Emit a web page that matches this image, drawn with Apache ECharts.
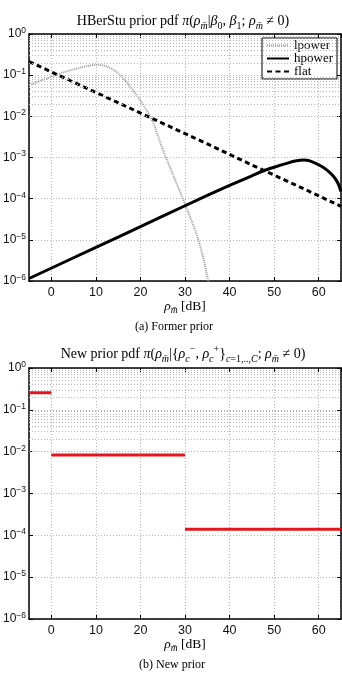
<!DOCTYPE html>
<html>
<head>
<meta charset="utf-8">
<script src="https://cdn.jsdelivr.net/npm/echarts@6.0.0/dist/echarts.min.js"></script>
<style>
    html, body { margin: 0; padding: 0; background: #fff; }
    #main { width: 342px; height: 673px; }
</style>
</head>
<body>
<div id="main"></div>
<script>
// (a) former prior, x in dB
var lpowerX = [-5, -2.5, 0, 2.5, 5, 7.5, 10, 12.5, 15, 17.5, 20, 22.5, 25, 27.5, 30, 32.5, 34, 35, 35.5];
var lpowerY = [0.0575, 0.0724, 0.0912, 0.115, 0.138, 0.162, 0.178, 0.162, 0.112, 0.0562, 0.024, 0.0085, 0.00158, 3.4e-4, 7.4e-5, 1.45e-5, 4.0e-6, 1.26e-6, 7.9e-7];

var hpowerX = [-5, 5, 15, 25, 35, 40, 45, 47.5, 50, 53, 55, 56.6, 58, 60.4, 62, 63.3, 64.3, 65];
var hpowerY = [1.15e-6, 3.67e-6, 1.17e-5, 3.76e-5, 1.2e-4, 2.1e-4, 3.6e-4, 4.7e-4, 5.8e-4, 7.3e-4, 8.3e-4, 8.7e-4, 8.3e-4, 6.3e-4, 4.8e-4, 3.5e-4, 2.4e-4, 1.48e-4];

var flatX = [-5, 5, 15, 25, 35, 45, 55, 65];
var flatY = [0.214, 0.0676, 0.0214, 0.00676, 0.00214, 6.6e-4, 2.1e-4, 6.5e-5];

// (b) new prior: piecewise constant
var priorEdges = [-5, 0, 30, 65];
var priorLevels = [0.257, 0.0083, 1.4e-4];

var xTickLabels = ['0', '10', '20', '30', '40', '50', '60'];

(function () {
    var myChart = echarts.init(document.getElementById('main'));

    function pairs(xs, ys) {
        return xs.map(function (x, i) { return [x, ys[i]]; });
    }
    var priorData = [];
    priorLevels.forEach(function (v, i) {
        if (i > 0) priorData.push([priorEdges[i], '-']);
        priorData.push([priorEdges[i], v], [priorEdges[i + 1], v]);
    });

    // log minor grid at 2..9 x 10^e
    var minorLines = [];
    for (var e = -6; e < 0; e++) {
        for (var k = 2; k <= 9; k++) minorLines.push({ yAxis: k * Math.pow(10, e) });
    }

    var serif = 'Liberation Serif';
    var sans = 'Liberation Sans';
    var gridColor = '#b4b4b4';

    var rich = {
        n: { fontFamily: serif, fontSize: 14, lineHeight: 20, color: '#000' },
        i: { fontFamily: serif, fontSize: 14, lineHeight: 20, fontStyle: 'italic', color: '#000' },
        sb: { fontFamily: serif, fontSize: 10, lineHeight: 11, verticalAlign: 'bottom', color: '#000' },
        sbi: { fontFamily: serif, fontSize: 10, lineHeight: 11, verticalAlign: 'bottom', fontStyle: 'italic', color: '#000' },
        sp: { fontFamily: serif, fontSize: 10, lineHeight: 11, verticalAlign: 'top', color: '#000' }
    };
    var nameRich = {
        n: { fontFamily: serif, fontSize: 13.5, lineHeight: 18, color: '#000' },
        i: { fontFamily: serif, fontSize: 13.5, lineHeight: 18, fontStyle: 'italic', color: '#000' },
        sbi: { fontFamily: serif, fontSize: 9.5, lineHeight: 10, verticalAlign: 'bottom', fontStyle: 'italic', color: '#000' }
    };
    var yRich = {
        b: { fontFamily: sans, fontSize: 12, lineHeight: 16, color: '#111' },
        s: { fontFamily: sans, fontSize: 8.5, lineHeight: 9, verticalAlign: 'top', color: '#111' }
    };

    function xBottom(gi) {
        return {
            type: 'value', gridIndex: gi, min: -5, max: 65, splitNumber: 7,
            name: '{i|ρ}{sbi|m̄} {n|[dB]}',
            nameLocation: 'middle', nameGap: 16,
            nameTextStyle: { rich: nameRich },
            axisLine: { onZero: false, lineStyle: { color: '#000', width: 1.5 } },
            axisTick: { inside: true, length: 4, lineStyle: { color: '#000' } },
            axisLabel: {
                showMinLabel: false, showMaxLabel: false, margin: 5,
                fontFamily: sans, fontSize: 12.5, color: '#111',
                formatter: function (v) { return xTickLabels.indexOf(String(v)) >= 0 ? String(v) : ''; }
            },
            splitLine: { show: true, lineStyle: { color: gridColor, type: [1, 2], width: 1 } }
        };
    }
    function xTop(gi) {
        return {
            type: 'value', gridIndex: gi, position: 'top', min: -5, max: 65, splitNumber: 7,
            axisLine: { onZero: false, lineStyle: { color: '#000', width: 1.5 } },
            axisTick: { inside: true, length: 4, lineStyle: { color: '#000' } },
            axisLabel: { show: false }, splitLine: { show: false }
        };
    }
    function yLeft(gi) {
        return {
            type: 'log', gridIndex: gi, logBase: 10, min: 1e-6, max: 1, splitNumber: 6,
            axisLine: { show: true, onZero: false, lineStyle: { color: '#000', width: 1.5 } },
            axisTick: { show: true, inside: true, length: 4, lineStyle: { color: '#000' } },
            axisLabel: {
                margin: 3,
                rich: yRich,
                formatter: function (v) {
                    var p = Math.round(Math.log10(v));
                    return '{b|10}{s|' + (p < 0 ? '−' + (-p) : p) + '}';
                }
            },
            splitLine: { show: true, lineStyle: { color: gridColor, type: [1, 2], width: 1 } }
        };
    }
    function yRight(gi) {
        return {
            type: 'log', gridIndex: gi, logBase: 10, min: 1e-6, max: 1, splitNumber: 6, position: 'right',
            axisLine: { show: true, onZero: false, lineStyle: { color: '#000', width: 1.5 } },
            axisTick: { show: true, inside: true, length: 4, lineStyle: { color: '#000' } },
            axisLabel: { show: false }, splitLine: { show: false }
        };
    }
    function minorGrid(xi, yi) {
        return {
            type: 'line', xAxisIndex: xi, yAxisIndex: yi, data: [], z: 1, silent: true,
            markLine: {
                silent: true, symbol: ['none', 'none'], label: { show: false },
                lineStyle: { color: gridColor, type: [1, 2], width: 1 },
                emphasis: { disabled: true },
                animation: false,
                data: minorLines
            }
        };
    }

    var option = {
        backgroundColor: '#fff',
        animation: false,
        title: [
            {
                text: '{n|HBerStu prior pdf }{i|π}{n|(}{i|ρ}{sbi|m̄}{n||}{i|β}{sb|0}{n|, }{i|β}{sb|1}{n|; }{i|ρ}{sbi|m̄}{n| ≠ 0)}',
                left: 183, top: 11, textAlign: 'center', padding: 0,
                textStyle: { rich: rich, fontFamily: serif, fontSize: 14, fontWeight: 'normal' }
            },
            {
                text: '(a) Former prior',
                left: 174, top: 321, textAlign: 'center', padding: 0,
                textStyle: { fontFamily: serif, fontSize: 12, fontWeight: 'normal', color: '#000' }
            },
            {
                text: '{n|New prior pdf }{i|π}{n|(}{i|ρ}{sbi|m̄}{n||{}{i|ρ}{sbi|c}{sp|−}{n|, }{i|ρ}{sbi|c}{sp|+}}{sbi|c}{sb|=1,..,}{sbi|C}{n|; }{i|ρ}{sbi|m̄}{n| ≠ 0)}',
                left: 183, top: 344, textAlign: 'center', padding: 0,
                textStyle: { rich: rich, fontFamily: serif, fontSize: 14, lineHeight: 20, fontWeight: 'normal', color: '#000' }
            },
            {
                text: '(b) New prior',
                left: 172, top: 659, textAlign: 'center', padding: 0,
                textStyle: { fontFamily: serif, fontSize: 12, fontWeight: 'normal', color: '#000' }
            }
        ],
        legend: {
            data: ['lpower', 'hpower', 'flat'],
            orient: 'vertical', right: 5, top: 38,
            backgroundColor: '#fff', borderColor: '#000', borderWidth: 1,
            padding: [1, 4, 1, 4], itemGap: 0, itemWidth: 22, itemHeight: 10, itemTextGap: 3,
            itemStyle: { opacity: 0 },
            textStyle: { fontFamily: serif, fontSize: 13, lineHeight: 11.5, color: '#000' }
        },
        grid: [
            { left: 25, top: 34, width: 316, height: 247 },
            { left: 25, top: 368, width: 316, height: 251 }
        ],
        xAxis: [xBottom(0), xTop(0), xBottom(1), xTop(1)],
        yAxis: [yLeft(0), yRight(0), yLeft(1), yRight(1)],
        series: [
            minorGrid(0, 0),
            minorGrid(2, 2),
            {
                name: 'lpower', type: 'line', xAxisIndex: 0, yAxisIndex: 0, z: 3,
                data: pairs(lpowerX, lpowerY), smooth: 0.3, symbol: 'none',
                lineStyle: { color: '#9c9c9c', width: 2, type: [1, 1] },
                itemStyle: { color: '#9c9c9c' }
            },
            {
                name: 'hpower', type: 'line', xAxisIndex: 0, yAxisIndex: 0, z: 4,
                data: pairs(hpowerX, hpowerY), smooth: 0.3, symbol: 'none',
                lineStyle: { color: '#000', width: 3 },
                itemStyle: { color: '#000' }
            },
            {
                name: 'flat', type: 'line', xAxisIndex: 0, yAxisIndex: 0, z: 4,
                data: pairs(flatX, flatY), symbol: 'none',
                lineStyle: { color: '#000', width: 3, type: [5, 3.5] },
                itemStyle: { color: '#000' }
            },
            {
                name: 'prior', type: 'line', xAxisIndex: 2, yAxisIndex: 2, z: 4,
                data: priorData, symbol: 'none', connectNulls: false,
                lineStyle: { color: '#e3161f', width: 3 },
                itemStyle: { color: '#e3161f' }
            }
        ]
    };
    myChart.setOption(option);
    window.addEventListener('resize', function () {
        myChart.resize();
    });
})();
</script>
</body>
</html>
